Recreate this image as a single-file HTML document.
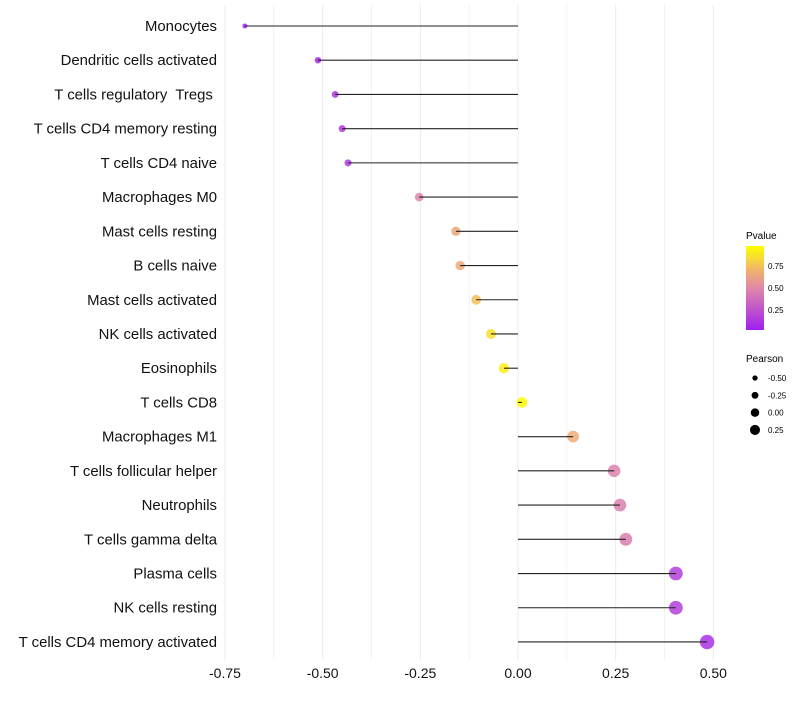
<!DOCTYPE html>
<html><head><meta charset="utf-8"><style>
body{margin:0;background:#fff;font-family:"Liberation Sans",sans-serif}
text{white-space:pre}
</style></head><body>
<svg id="chart" width="800" height="700" xmlns="http://www.w3.org/2000/svg">
<defs><linearGradient id="pg" x1="0" y1="1" x2="0" y2="0">
<stop offset="0" stop-color="#a020f0"/><stop offset="0.5" stop-color="#e088a8"/><stop offset="0.7" stop-color="#f0b070"/><stop offset="1" stop-color="#ffff00"/>
</linearGradient></defs>
<g id="grid"></g><g id="dots"></g><g id="marks"></g><g id="ylabels"></g><g id="xlabels"></g>
<g>
<text x="746" y="239" font-size="10">Pvalue</text>
<rect x="746" y="246" width="18" height="84" fill="url(#pg)"/>
<text x="768" y="269" font-size="8">0.75</text>
<text x="768" y="291" font-size="8">0.50</text>
<text x="768" y="313" font-size="8">0.25</text>
</g>
<g id="sizeleg">
<text x="746" y="362" font-size="10">Pearson</text>
</g>
</svg>
<script>
const categories=["Monocytes","Dendritic cells activated","T cells regulatory  Tregs ","T cells CD4 memory resting","T cells CD4 naive","Macrophages M0","Mast cells resting","B cells naive","Mast cells activated","NK cells activated","Eosinophils","T cells CD8","Macrophages M1","T cells follicular helper","Neutrophils","T cells gamma delta","Plasma cells","NK cells resting","T cells CD4 memory activated"];
const pearson=[-0.699,-0.512,-0.468,-0.45,-0.435,-0.253,-0.159,-0.148,-0.107,-0.069,-0.036,0.01,0.141,0.246,0.261,0.276,0.404,0.404,0.484];
const pvalue=[0.0,0.05,0.1,0.12,0.13,0.48,0.66,0.67,0.76,0.88,0.93,0.99,0.68,0.47,0.46,0.45,0.15,0.15,0.08];
const xticks=[-0.75,-0.5,-0.25,0,0.25,0.5];
const xtickLabels=["-0.75","-0.50","-0.25","0.00","0.25","0.50"];
const legendVals=[-0.5,-0.25,0,0.25];
const legendLabels=["-0.50","-0.25","0.00","0.25"];
const NS="http://www.w3.org/2000/svg";
const x=v=>518+v*390.7;
const y=i=>26+i*34.22;
const r=v=>Math.max(1.5,5.3+4*v);
const stops=[[0,[160,32,240]],[0.5,[224,136,168]],[0.7,[240,176,112]],[1,[255,255,0]]];
function col(p){
 for(let k=0;k<stops.length-1;k++){
  const [p0,c0]=stops[k],[p1,c1]=stops[k+1];
  if(p<=p1||k==stops.length-2){const t=Math.min(1,Math.max(0,(p-p0)/(p1-p0)));
   return "rgb("+c0.map((c,j)=>Math.round(c+(c1[j]-c)*t)).join(",")+")";}
 }
}
function mk(tag,at,parent){const e=document.createElementNS(NS,tag);for(const k in at)e.setAttribute(k,at[k]);document.getElementById(parent).appendChild(e);return e;}
for(let v=-0.75;v<=0.5001;v+=0.125){
 const g=mk("line",{x1:x(v),x2:x(v),y1:5,y2:660,stroke:"#ebebeb","stroke-width":(Math.abs(v*4-Math.round(v*4))<0.01)?1:0.6},"grid");
 
 
}
xticks.forEach((v,i)=>{
 const t=mk("text",{x:x(v),y:678,"font-size":14,"text-anchor":"middle",fill:"#111"},"xlabels");
 t.textContent=xtickLabels[i];
 
 
});
categories.forEach((c,i)=>{
 const t=mk("text",{x:217,y:y(i)+5,"font-size":14.9,"text-anchor":"end",fill:"#111"},"ylabels");
 t.textContent=c;
 
 
 const d=mk("circle",{cx:x(pearson[i]),cy:y(i),r:r(pearson[i]),fill:col(pvalue[i]),"fill-opacity":0.85},"dots");
 
 
 const l=mk("line",{x1:x(0),x2:x(pearson[i]),y1:y(i),y2:y(i),stroke:"#222","stroke-width":1.1},"marks");
 
 
});
legendVals.forEach((v,i)=>{
 const cy=378+i*17.3;
 const c=mk("circle",{cx:755,cy:cy,r:r(v)*0.8,fill:"#000"},"sizeleg");
 
 
 const t=mk("text",{x:768,y:cy+3,"font-size":8},"sizeleg");
 t.textContent=legendLabels[i];
 
 
});
</script>
</body></html>
